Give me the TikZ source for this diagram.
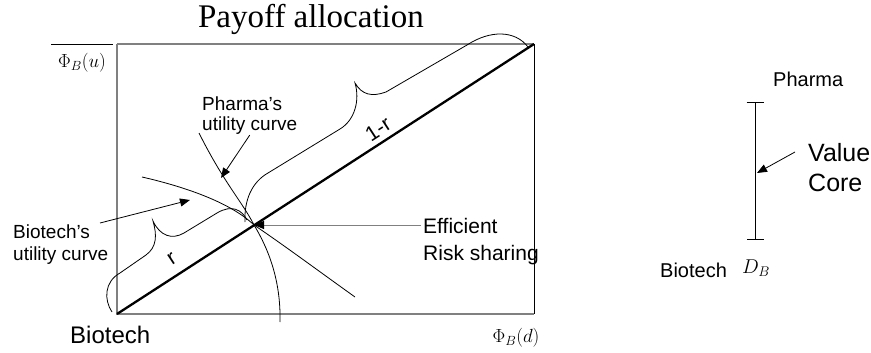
\RequirePackage{fix-cm}
\documentclass[tikz,border=0pt]{standalone}
\usepackage{amsmath}
\usepackage{fontspec}
\setmainfont{Liberation Serif}
\setsansfont{Liberation Sans}
\usepackage{tikz}
\usetikzlibrary{arrows.meta,positioning}
\newcommand{\fsz}[2]{\fontsize{#1}{#2}\selectfont}
\tikzset{
  box/.style={draw=black!50,line width=1.4pt},
  diag/.style={line width=2.3pt},
  uc/.style={line width=0.8pt},
  brc/.style={line width=0.8pt},
  ptr/.style={line width=0.8pt,-{Triangle[length=10pt,width=8pt]}},
  core/.style={line width=0.9pt,{Bar[width=17pt]}-{Bar[width=17pt]}},
  lbl/.style={inner sep=0pt,align=left},
  mth/.style={inner sep=0pt,font=\fsz{19}{20}}
}

\begin{document}
\begin{tikzpicture}[x=1pt,y=-1pt]
\useasboundingbox (0,0) rectangle (871,353);
% payoff box and diagonal
\coordinate (o) at (117,314);
\coordinate (tr) at (534,44);
\coordinate (eff) at (254,225);
\draw[box] (117,44) -- (534,44);
\draw[box] (117,44) -- (o) -- (534,314);
\draw[line width=1pt] (tr) -- (534,314);
\draw[line width=0.8pt] (51,44) -- (113,44);
\draw[diag] (o) -- (tr);
\node[anchor=base,font=\rmfamily\fsz{33}{33}] (title) at (311,28) {Payoff allocation};
\node[mth] (phiu) at (82,63) {$\Phi_B(u)$};
\node[mth] (phid) at (516,338) {$\Phi_B(d)$};
\node[lbl,anchor=base west,font=\sffamily\fsz{24}{24}] (bio) at (70,343) {Biotech};
% utility curves
\draw[uc] (199,133) .. controls (224,183) and (243,203) .. (eff) .. controls (268,248) and (281,280) .. (280,322);
\draw[uc] (142,177) .. controls (190,188) and (232,204) .. (eff) .. controls (285,246) and (320,272) .. (355,297);
% shares r and 1-r
\draw[brc] (112,312) .. controls (104,300) and (104,282) .. (120,273) -- (146,255) .. controls (157,247) and (157,235) .. (153,221) .. controls (160,236) and (172,240) .. (184,233) -- (217,213) .. controls (232,204) and (242,210) .. (247,220);
\draw[brc] (245,222) .. controls (244,200) and (252,182) .. (268,173) -- (340,129) .. controls (355,120) and (360,100) .. (355,83) .. controls (362,95) and (372,97) .. (386,92) -- (467,45) .. controls (490,30) and (515,30) .. (528,47);
\node[lbl,rotate=33,font=\sffamily\fsz{21}{21}] (rr) at (172,259) {r};
\node[lbl,rotate=33,font=\sffamily\fsz{21}{21}] (r1) at (378,129) {1-r};
% labels and pointers
\node[lbl,anchor=north west,font=\sffamily\fsz{19}{20}] (plbl) at (202,97) {Pharma’s\\utility curve};
\node[lbl,anchor=north west,font=\sffamily\fsz{19}{22}] (blbl) at (13,225) {Biotech’s\\utility curve};
\node[lbl,anchor=north west,font=\sffamily\fsz{21}{27}] (efflbl) at (423,218) {Efficient\\Risk sharing};
\coordinate (ptip) at (221,178);
\coordinate (btail) at (100,223);
\coordinate (btip) at (190,200);
\draw[ptr] (plbl.south) -- (ptip);
\draw[ptr] (btail) -- (btip);
\draw[line width=1pt,draw=black!50,-{Triangle[length=10pt,width=8pt,black]}] ([xshift=-2pt]efflbl.west |- eff) -- (eff);
% value core
\coordinate (ptop) at (755,102);
\coordinate (pbot) at (755,240);
\draw[core] (ptop) -- (pbot);
\node[lbl,anchor=base west,font=\sffamily\fsz{20}{20}] (pharma) at (773,87) {Pharma};
\node[lbl,anchor=base west,font=\sffamily\fsz{20}{20}] (biot) at (660,277) {Biotech};
\node[mth,anchor=base west,font=\fsz{20}{20}] (db) at (742,273) {$D_B$};
\node[lbl,anchor=north west,font=\sffamily\fsz{25}{30}] (vlbl) at (808,143) {Value\\Core};
\coordinate (vtail) at (795,152);
\coordinate (vtip) at (757,173);
\draw[ptr] (vtail) -- (vtip);
\end{tikzpicture}
\end{document}
